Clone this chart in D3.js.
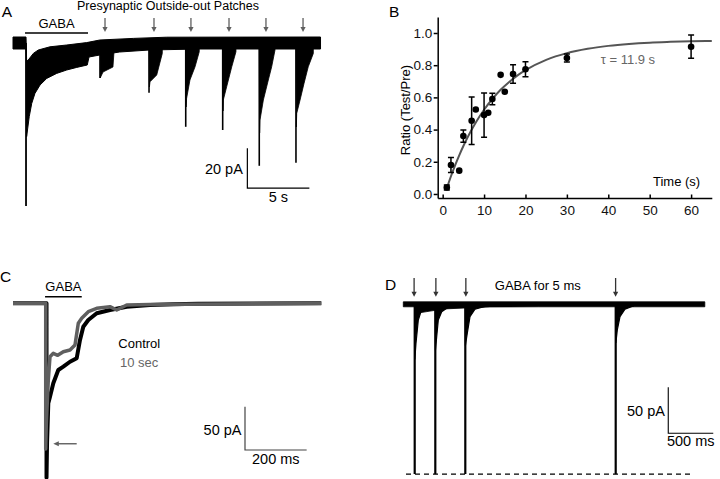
<!DOCTYPE html>
<html><head><meta charset="utf-8">
<script src="https://cdn.jsdelivr.net/npm/d3@7"></script>
<style>body{margin:0;background:#fff}svg{display:block}</style>
</head><body>
<svg id="c" width="720" height="479"></svg>
<script>
// ================= DATA =================
// ---- Panel A (time in s, current in pA) ----
const aTitle = "Presynaptic Outside-out Patches";
const aBandUpper = [[0,3],[1.05,3],[1.1,-9],[1.23,-8.5],[1.64,-5.2],[2.04,-3.5],[2.98,-1.9],[4.33,-1.0],[5.94,0.2],[7.0,1.5],[9.7,2.3],[12.4,2.9],[24.8,3]];
const aBandLower = [[0,-3],[1.05,-3],[1.1,-46.8],[1.31,-36.8],[1.51,-30.2],[1.77,-25.2],[2.18,-21],[2.72,-17.7],[3.52,-15.2],[4.33,-13.5],[5.14,-12.2],[5.99,-11],[6.13,-7],[7.0,-6],[8.6,-4.5],[11,-3.5],[15,-3],[24.8,-3]];
const aGabaSpike = [1.05, -81.5];
const aTestTimes = [7.02, 10.97, 13.93, 16.91, 19.86, 22.82];
const aTestPeaks = [-17.5, -24.85, -41.9, -43.5, -61.4, -59.9];
const aTestTails = [
  [[7.03,-17.5],[7.26,-14.5],[7.58,-13.5],[8.06,-12],[8.15,-4]],
  [[11.0,-22],[11.05,-19.4],[11.59,-16],[12.04,-5.2]],
  [[13.96,-32],[14.0,-27.7],[14.27,-18.5],[14.68,-11.9],[15.02,-4.4]],
  [[16.94,-34],[16.96,-28.5],[17.23,-21.9],[17.64,-11.9],[17.98,-4.4]],
  [[19.89,-45],[19.92,-38.5],[20.19,-28.5],[20.59,-18.5],[20.86,-11.9],[21.13,-3.5]],
  [[22.85,-42],[22.88,-35.2],[23.15,-28.5],[23.47,-20.2],[23.81,-11.9],[24.22,-5.2]]
];
const aArrowTimes = [7.42, 11.37, 14.35, 17.42, 20.4, 23.39];
const aGabaBar = [0.97, 6.05];
const aScaleBar = [18.9, -72.6, 5, 20];   // t0, i0, dt (s), di (pA)
const aScaleLabels = ["20 pA", "5 s"];

// ---- Panel B ----
const bTime  = [1, 2, 4, 5, 7, 8, 10, 11, 12, 14, 15, 17, 20, 30, 60];
const bRatio = [0.04, 0.18, 0.145, 0.36, 0.455, 0.525, 0.49, 0.505, 0.59, 0.74, 0.635, 0.745, 0.775, 0.845, 0.915];
const bError = [0.015, 0.047, 0, 0.038, 0.148, 0, 0.137, 0, 0.035, 0, 0, 0.057, 0.047, 0.025, 0.072];
const bFitTime  = [1,2,3,4,5,6,8,10,12,14,16,18,20,25,30,35,40,45,50,55,60,65];
const bFitRatio = [0.035,0.11,0.178,0.24,0.298,0.351,0.444,0.523,0.590,0.647,0.694,0.735,0.769,0.833,0.875,0.902,0.920,0.932,0.940,0.945,0.949,0.951];
const bXTicks = [0, 10, 20, 30, 40, 50, 60];
const bYTicks = [0, 0.2, 0.4, 0.6, 0.8, 1.0];
const bYLabel = "Ratio (Test/Pre)";
const bXLabel = "Time (s)";
const bTauLabel = "\u03C4 = 11.9 s";

// ---- Panel C (time in ms, current in pA) ----
const cControl = [[0,0],[108.7,0],[108.7,-201],[110.5,-160],[114.5,-115.3],[120,-107.7],[130.7,-92.3],[146.9,-76.9],[163.2,-73.1],[184.9,-67.4],[206.6,-63.4],[217.3,-42.3],[228,-27],[244.2,-19.3],[271.5,-11.5],[314.6,-7.7],[368.8,-3.9],[444.4,-2],[520,-1.2],[600,-0.5],[1000,0]];
const cTenSec = [[0,0],[106.1,0],[106.1,-168],[108,-140],[114.5,-88.5],[120,-61.6],[130.7,-57.7],[145,-60],[163.2,-55.8],[184.9,-53.9],[201.1,-48.1],[211.8,-23.1],[222.8,-17.3],[244.2,-9.7],[271.5,-5.8],[314.6,-3.9],[336.4,-7.7],[368.8,-2],[444,-1.4],[1000,0]];
const cGabaBar = [104, 223];
const cArrow = [206.6, 130.7, -162];
const cScaleBar = [752.5, -169.2, 200, 50];
const cScaleLabels = ["50 pA", "200 ms"];
const cLegend = ["Control", "10 sec"];

// ---- Panel D (time in ms, current in pA) ----
const dBandLower = [[0,-2.7],[126.7,-2.7],[140,-10],[163,-9.5],[297,-7.4],[463,-5],[685,-4],[963,-2.9],[1500,-2.7],[3350,-2.7]];
const dBandUpper = [[0,2.7],[3350,2.7]];
const dSpikeTimes = [126.7, 355.6, 688.9, 2360];
const dPeak = -184.5;
const dTails = [
  [[128,-60],[141,-42.4],[166.7,-17.1],[204.4,-5.4],[296.7,-1.8]],
  [[357,-50],[371.1,-35.2],[388.9,-17.1],[426.7,-8],[518.9,-1.8]],
  [[690,-45],[711.1,-31.5],[741.1,-13.5],[796.7,-5.4],[926.7,-1.8]],
  [[2362,-42],[2377.8,-27.9],[2407.8,-13.5],[2463.3,-5.4],[2555.6,-1.8]]
];
const dArrowTimes = [120, 362, 695, 2359];
const dDashed = [30, 3204];
const dScaleBar = [2944, -140.2, 500, 50];
const dScaleLabels = ["50 pA", "500 ms"];
const dTitle = "GABA for 5 ms";

const panelLetters = ["A", "B", "C", "D"];

// ================= DRAW =================
const FONT = '"Liberation Sans", Arial, Helvetica, sans-serif';
const svg = d3.select("#c").style("font-family", FONT);
const GRAY = "#5f5f5f";

function downArrow(g, x, y1, y2, color) {
  g.append("line").attr("x1", x).attr("x2", x).attr("y1", y1).attr("y2", y2 - 4)
    .attr("stroke", color).attr("stroke-width", 1.3);
  g.append("path").attr("d", `M${x-2.6},${y2-5}L${x+2.6},${y2-5}L${x},${y2}Z`).attr("fill", color);
}
function label(g, x, y, text, size, anchor, color) {
  return g.append("text").attr("x", x).attr("y", y).attr("font-size", size)
    .attr("text-anchor", anchor || "start").attr("fill", color || "#000").text(text);
}

// ---------- Panel A ----------
{
  const g = svg.append("g");
  const x = d3.scaleLinear().domain([0, 25]).range([13, 323]);
  const y = d3.scaleLinear().domain([0, -80]).range([43, 203]);
  const ln = d3.line().x(d => x(d[0])).y(d => y(d[1]));
  label(g, 168, 9.5, aTitle, 12.5, "middle");
  g.append("path").attr("d", ln(aBandUpper.concat(aBandLower.slice().reverse())) + "Z")
    .attr("fill", "#000").attr("stroke", "#000").attr("stroke-width", 1);
  g.append("line").attr("x1", x(aGabaSpike[0])).attr("x2", x(aGabaSpike[0]))
    .attr("y1", y(0)).attr("y2", y(aGabaSpike[1])).attr("stroke", "#000").attr("stroke-width", 1.8);
  aTestTimes.forEach((t, i) => {
    g.append("line").attr("x1", x(t)).attr("x2", x(t)).attr("y1", y(0)).attr("y2", y(aTestPeaks[i]))
      .attr("stroke", "#000").attr("stroke-width", 1.6);
    const tail = aTestTails[i];
    const poly = [[t, -2]].concat(tail).concat([[tail[tail.length - 1][0], -2]]);
    g.append("path").attr("d", ln(poly) + "Z").attr("fill", "#000").attr("stroke", "#000").attr("stroke-width", 0.8);
  });
  aArrowTimes.forEach(t => downArrow(g, x(t), 18, 32, GRAY));
  g.append("line").attr("x1", x(aGabaBar[0])).attr("x2", x(aGabaBar[1])).attr("y1", y(5)).attr("y2", y(5))
    .attr("stroke", "#000").attr("stroke-width", 1.4);
  label(g, x((aGabaBar[0] + aGabaBar[1]) / 2), 28, "GABA", 13, "middle");
  const [t0, i0, dt, di] = aScaleBar;
  g.append("path").attr("d", `M${x(t0)},${y(i0 + di)}L${x(t0)},${y(i0)}L${x(t0 + dt)},${y(i0)}`)
    .attr("fill", "none").attr("stroke", "#000").attr("stroke-width", 1.2);
  label(g, x(t0) - 4.5, 174, aScaleLabels[0], 14.5, "end");
  label(g, x(t0 + dt / 2), 201.5, aScaleLabels[1], 14.5, "middle");
}

// ---------- Panel B ----------
{
  const g = svg.append("g");
  const x = d3.scaleLinear().domain([-1.2, 65]).range([437.7, 711.8]);
  const y = d3.scaleLinear().domain([-0.025, 1.1]).range([198, 16.9]);
  const xAxis = g.append("g").attr("transform", "translate(0,198)")
    .call(d3.axisBottom(x).tickValues(bXTicks).tickSize(-3.5).tickSizeOuter(0).tickPadding(7.5));
  const yAxis = g.append("g").attr("transform", "translate(437.7,0)")
    .call(d3.axisLeft(y).tickValues(bYTicks).tickFormat(d3.format(".1f")).tickSize(4).tickSizeOuter(0).tickPadding(1.5));
  [xAxis, yAxis].forEach(a => {
    a.selectAll("path,line").attr("stroke", "#000").attr("stroke-width", 1.5);
    a.selectAll("text").attr("font-size", 13.5).attr("font-family", FONT).attr("fill", "#111");
  });
  g.append("path").datum(bFitTime.map((t, i) => [t, bFitRatio[i]]))
    .attr("d", d3.line().x(d => x(d[0])).y(d => y(d[1])).curve(d3.curveMonotoneX))
    .attr("fill", "none").attr("stroke", "#555").attr("stroke-width", 2);
  bTime.forEach((t, i) => {
    const e = bError[i];
    if (e > 0) {
      const cx = x(t), yt = y(bRatio[i] + e), yb = y(bRatio[i] - e);
      g.append("path").attr("d", `M${cx-3},${yt}H${cx+3}M${cx},${yt}V${yb}M${cx-3},${yb}H${cx+3}`)
        .attr("stroke", "#000").attr("stroke-width", 1.5).attr("fill", "none");
    }
  });
  g.selectAll("circle.pt").data(bTime).enter().append("circle")
    .attr("cx", d => x(d)).attr("cy", (d, i) => y(bRatio[i])).attr("r", 3.3).attr("fill", "#000");
  g.append("text").attr("transform", "translate(409.5,110) rotate(-90)").attr("text-anchor", "middle")
    .attr("font-size", 13).text(bYLabel);
  label(g, 653, 186, bXLabel, 13);
  label(g, 600.7, 64, bTauLabel, 13, "start", "#666");
}

// ---------- Panel C ----------
{
  const g = svg.append("g");
  const x = d3.scaleLinear().domain([0, 1000]).range([13, 321.3]);
  const y = d3.scaleLinear().domain([0, -200]).range([303.3, 476.7]);
  const ln = d3.line().x(d => x(d[0])).y(d => y(d[1]));
  g.append("path").attr("d", ln(cControl)).attr("fill", "none").attr("stroke", "#000")
    .attr("stroke-width", 4).attr("stroke-linejoin", "round");
  g.append("path").attr("d", ln(cTenSec)).attr("fill", "none").attr("stroke", GRAY)
    .attr("stroke-width", 3.5).attr("stroke-linejoin", "round");
  g.append("line").attr("x1", x(cGabaBar[0])).attr("x2", x(cGabaBar[1])).attr("y1", y(7.6)).attr("y2", y(7.6))
    .attr("stroke", "#000").attr("stroke-width", 1.4);
  label(g, x((cGabaBar[0] + cGabaBar[1]) / 2), 290.7, "GABA", 13, "middle");
  const [ta, th, ia] = cArrow;
  g.append("line").attr("x1", x(ta)).attr("x2", x(th) + 4).attr("y1", y(ia)).attr("y2", y(ia))
    .attr("stroke", GRAY).attr("stroke-width", 1.4);
  g.append("path").attr("d", `M${x(th)},${y(ia)}L${x(th)+5.5},${y(ia)-2.6}L${x(th)+5.5},${y(ia)+2.6}Z`).attr("fill", GRAY);
  label(g, 118.3, 348.3, cLegend[0], 13, "start", "#000");
  label(g, 120, 366.7, cLegend[1], 13, "start", "#666");
  const [t0, i0, dt, di] = cScaleBar;
  g.append("path").attr("d", `M${x(t0)},${y(i0 + di)}L${x(t0)},${y(i0)}L${x(t0 + dt)},${y(i0)}`)
    .attr("fill", "none").attr("stroke", "#444").attr("stroke-width", 1.2);
  label(g, x(t0) - 3.5, 435, cScaleLabels[0], 14.5, "end");
  label(g, x(t0 + dt / 2), 464.3, cScaleLabels[1], 14.5, "middle");
}

// ---------- Panel D ----------
{
  const g = svg.append("g");
  const x = d3.scaleLinear().domain([0, 3350]).range([403.3, 704.8]);
  const y = d3.scaleLinear().domain([0, -200]).range([304.3, 488.3]);
  const ln = d3.line().x(d => x(d[0])).y(d => y(d[1]));
  g.append("line").attr("x1", x(dDashed[0])).attr("x2", x(dDashed[1])).attr("y1", y(dPeak)).attr("y2", y(dPeak))
    .attr("stroke", "#000").attr("stroke-width", 1.3).attr("stroke-dasharray", "5,4");
  g.append("path").attr("d", ln(dBandUpper.concat(dBandLower.slice().reverse())) + "Z")
    .attr("fill", "#000").attr("stroke", "#000").attr("stroke-width", 0.8);
  dSpikeTimes.forEach((t, i) => {
    g.append("line").attr("x1", x(t)).attr("x2", x(t)).attr("y1", y(0)).attr("y2", y(dPeak))
      .attr("stroke", "#000").attr("stroke-width", 2.2);
    const tail = dTails[i];
    const poly = [[t, -2]].concat(tail).concat([[tail[tail.length - 1][0], -2]]);
    g.append("path").attr("d", ln(poly) + "Z").attr("fill", "#000").attr("stroke", "#000").attr("stroke-width", 1.2);
  });
  dArrowTimes.forEach(t => downArrow(g, x(t), 278, 296.7, "#333"));
  label(g, 537.8, 290, dTitle, 13, "middle");
  const [t0, i0, dt, di] = dScaleBar;
  g.append("path").attr("d", `M${x(t0)},${y(i0 + di)}L${x(t0)},${y(i0)}L${x(t0 + dt)},${y(i0)}`)
    .attr("fill", "none").attr("stroke", "#000").attr("stroke-width", 1.1);
  label(g, x(t0) - 3.3, 416, dScaleLabels[0], 14.5, "end");
  label(g, x(t0 + dt / 2), 446, dScaleLabels[1], 14.5, "middle");
}

[[1.7, 16.7], [389, 16.7], [0, 282], [385, 290]].forEach((p, i) =>
  label(svg, p[0], p[1], panelLetters[i], 15.5));
</script>
</body></html>
